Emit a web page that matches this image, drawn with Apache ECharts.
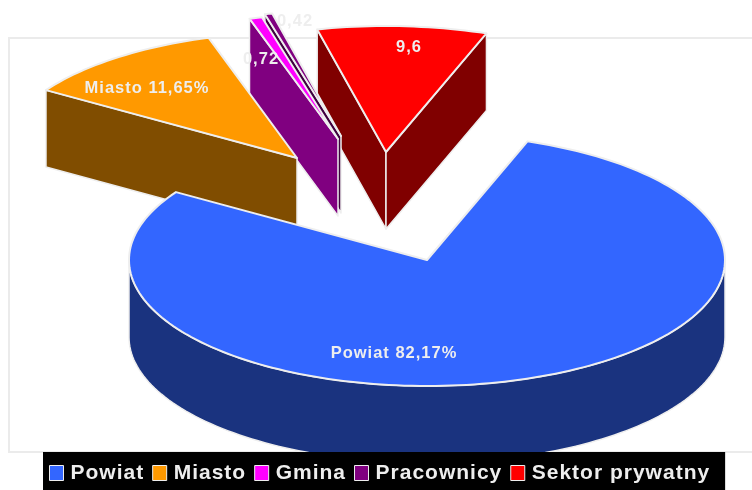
<!DOCTYPE html>
<html>
<head>
<meta charset="utf-8">
<style>html,body{margin:0;padding:0;background:#fff}#c{width:752px;height:490px}</style>
<script src="https://cdn.jsdelivr.net/npm/echarts@6/dist/echarts.min.js"></script>
</head>
<body>
<div id="c"></div>
<script>
const categories = ['Powiat', 'Miasto', 'Gmina', 'Pracownicy', 'Sektor prywatny'];
const values = [82.17, 11.65, 0.72, 0.42, 9.6];
const sliceLabels = ['Powiat 82,17%', 'Miasto 11,65%', '0,72', '0,42', '9,6'];

const topColors = ['#3366ff', '#ff9900', '#ff00ff', '#800080', '#ff0000'];
const wallColors = ['#1a337f', '#804d00', '#800080', '#400040', '#800000'];
const explodeX = [0, -130, -89, -86, -41];
const explodeY = [0, -102, -121, -124, -108];
const labelX = [394, 147, 261, 295, 409];
const labelY = [353, 88, 59, 21, 47];
const drawOrder = [4, 3, 2, 1, 0];

const CX = 427, CY = 260, RX = 298, RY = 126, DEPTH = 77, START = 19.7;
const LINE = '#eeeeee';
const total = values.reduce((a, b) => a + b, 0);

// The reference's text is set with wide tracking; canvas supports this natively.
const proto = CanvasRenderingContext2D.prototype;
['fillText', 'strokeText', 'measureText'].forEach(function (fn) {
  const orig = proto[fn];
  proto[fn] = function () {
    this.letterSpacing = '1px';
    return orig.apply(this, arguments);
  };
});

function rim(a, ox, oy) {
  const r = a * Math.PI / 180;
  return [CX + ox + RX * Math.sin(r), CY + oy - RY * Math.cos(r)];
}
function arc(a0, a1, ox, oy, dz) {
  const n = Math.max(2, Math.ceil(Math.abs(a1 - a0) / 1.5));
  const pts = [];
  for (let i = 0; i <= n; i++) {
    const p = rim(a0 + (a1 - a0) * i / n, ox, oy);
    pts.push([p[0], p[1] + dz]);
  }
  return pts;
}
function poly(points, fill, width) {
  return { type: 'polygon', shape: { points: points },
    style: { fill: fill, stroke: LINE, lineWidth: width, lineJoin: 'round' } };
}
function makeRender(idx) {
  return function (params, api) {
    const v = api.value(0);
    let before = 0;
    for (let i = 0; i < idx; i++) before += values[i];
    const a0 = START + before / total * 360;
    const a1 = a0 + v / total * 360;
    const ox = explodeX[idx], oy = explodeY[idx];
    const apex = [CX + ox, CY + oy];
    const apexB = [apex[0], apex[1] + DEPTH];
    const children = [];
    const sin = d => Math.sin(d * Math.PI / 180);
    if (sin(a0) < 0) {
      const p = rim(a0, ox, oy);
      children.push(poly([apex, p, [p[0], p[1] + DEPTH], apexB], wallColors[idx], 1.5));
    }
    if (sin(a1) > 0) {
      const p = rim(a1, ox, oy);
      children.push(poly([apex, p, [p[0], p[1] + DEPTH], apexB], wallColors[idx], 1.5));
    }
    const f0 = Math.max(a0, 90), f1 = Math.min(a1, 270);
    if (f1 > f0) {
      const up = arc(f0, f1, ox, oy, 0);
      const down = arc(f1, f0, ox, oy, DEPTH);
      children.push(poly(up.concat(down), wallColors[idx], 1.5));
    }
    children.push(poly([apex].concat(arc(a0, a1, ox, oy, 0)), topColors[idx], 2));
    children.push({ type: 'text', z2: 100, style: {
      text: sliceLabels[idx], x: labelX[idx], y: labelY[idx],
      fill: LINE, font: 'bold 16.5px "Liberation Sans", Arial, sans-serif',
      align: 'center', verticalAlign: 'middle' } });
    return { type: 'group', children: children };
  };
}

const chart = echarts.init(document.getElementById('c'), null, { renderer: 'canvas' });
chart.setOption({
  animation: false,
  graphic: [{ type: 'rect', z: 0, silent: true,
    shape: { x: 9, y: 38, width: 770, height: 414 },
    style: { fill: '#fff', stroke: '#ebebeb', lineWidth: 2 } }],
  legend: {
    data: categories, left: 43, top: 452, z: 50,
    backgroundColor: '#000', padding: [10, 15, 7, 6], itemGap: 8,
    itemWidth: 14, itemHeight: 15, icon: 'rect',
    itemStyle: { borderColor: '#eeeeee', borderWidth: 1 },
    textStyle: { color: '#eeeeee', fontSize: 21, fontWeight: 'bold',
      fontFamily: '"Liberation Sans", Arial, sans-serif', padding: [0, 0, 0, 2] }
  },
  series: drawOrder.map(i => ({
    type: 'custom', name: categories[i], coordinateSystem: 'none', silent: true,
    itemStyle: { color: topColors[i] },
    data: [[values[i]]], renderItem: makeRender(i)
  }))
});
</script>
</body>
</html>
